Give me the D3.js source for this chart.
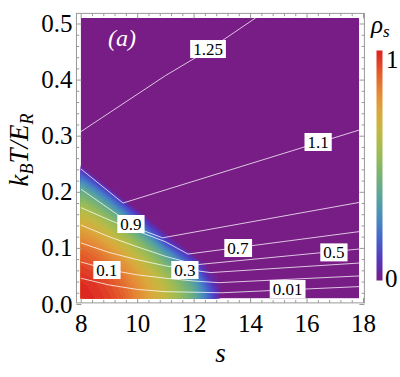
<!DOCTYPE html>
<html>
<head>
<meta charset="utf-8">
<script src="https://cdn.jsdelivr.net/npm/d3@7"></script>
<style>
body { margin: 0; background: #fff; }
svg { display: block; }
</style>
</head>
<body>
<script>
// superfluid density rho_s on a (s, kT/E_R) grid
const sAll = [8, 8.5, 9, 9.5, 10, 10.5, 11, 11.5, 12, 12.5, 13, 13.5, 14, 14.5, 15, 15.5, 16, 16.5, 17, 17.5, 18];
const tAll = [0.01, 0.03, 0.05, 0.07, 0.09, 0.11, 0.13, 0.15, 0.17, 0.19, 0.21, 0.23, 0.25,
              0.27, 0.29, 0.31, 0.33, 0.35, 0.37, 0.39, 0.41, 0.43, 0.45, 0.47, 0.49, 0.51];
// rows: T = 0.01 ... 0.25, cols: s = 8 ... 13 (everything else is 0)
const rhoRows = [
  [1.00, 0.98, 0.95, 0.90, 0.82, 0.74, 0.65, 0.54, 0.41, 0.21, 0],
  [0.99, 0.97, 0.93, 0.88, 0.81, 0.72, 0.63, 0.51, 0.38, 0.17, 0],
  [0.97, 0.95, 0.91, 0.85, 0.77, 0.68, 0.57, 0.44, 0.29, 0.06, 0],
  [0.94, 0.91, 0.86, 0.80, 0.71, 0.60, 0.47, 0.33, 0.15, 0, 0],
  [0.90, 0.87, 0.81, 0.73, 0.62, 0.50, 0.34, 0.15, 0, 0, 0],
  [0.84, 0.80, 0.73, 0.64, 0.52, 0.36, 0.13, 0, 0, 0, 0],
  [0.77, 0.72, 0.64, 0.53, 0.38, 0.15, 0, 0, 0, 0, 0],
  [0.70, 0.63, 0.53, 0.39, 0.18, 0, 0, 0, 0, 0, 0],
  [0.61, 0.52, 0.40, 0.20, 0, 0, 0, 0, 0, 0, 0],
  [0.49, 0.39, 0.21, 0, 0, 0, 0, 0, 0, 0, 0],
  [0.37, 0.20, 0, 0, 0, 0, 0, 0, 0, 0, 0],
  [0.18, 0, 0, 0, 0, 0, 0, 0, 0, 0, 0],
  [0, 0, 0, 0, 0, 0, 0, 0, 0, 0, 0]
];
const sMaxShown = 17.86;

// overlaid contour lines (level, points [s, T])
const contourLines = [
  { level: "1.25", pts: [[8, 0.307], [11, 0.407], [12.5, 0.452], [14.2, 0.51]] },
  { level: "1.1",  pts: [[8, 0.241], [9.5, 0.18], [17.86, 0.31]] },
  { level: "0.9",  pts: [[8, 0.205], [9, 0.17], [10, 0.135], [10.9, 0.118], [17.86, 0.181]] },
  { level: "0.7",  pts: [[8, 0.172], [9, 0.15], [10, 0.13], [11, 0.111], [11.8, 0.089], [17.86, 0.129]] },
  { level: "0.5",  pts: [[8, 0.141], [9, 0.12], [10, 0.102], [11, 0.085], [12.1, 0.07], [17.86, 0.098]] },
  { level: "0.3",  pts: [[8, 0.109], [9, 0.092], [10, 0.079], [11, 0.068], [12, 0.06], [12.6, 0.056], [17.86, 0.073]] },
  { level: "0.1",  pts: [[8, 0.075], [9, 0.061], [10, 0.052], [11, 0.046], [12, 0.041], [12.9, 0.038], [17.86, 0.05]] },
  { level: "0.01", pts: [[8, 0.046], [9, 0.034], [10, 0.026], [11, 0.022], [13, 0.02], [17.86, 0.031]] }
];
const contourLabels = [
  { text: "1.25", s: 12.51, t: 0.4545 },
  { text: "1.1",  s: 16.41, t: 0.2888 },
  { text: "0.9",  s: 9.78,  t: 0.1426 },
  { text: "0.7",  s: 13.57, t: 0.0998 },
  { text: "0.5",  s: 16.97, t: 0.092 },
  { text: "0.3",  s: 11.69, t: 0.0606 },
  { text: "0.1",  s: 8.93,  t: 0.0606 },
  { text: "0.01", s: 15.33, t: 0.0267 }
];

const xTicks = [8, 10, 12, 14, 16, 18];
const yTicks = [0, 0.1, 0.2, 0.3, 0.4, 0.5];
const rainbow = ["#781c86", "#5436c0", "#4664cc", "#488dbd", "#5aa49c", "#77b375",
                 "#9abb56", "#beba43", "#daaa3d", "#e58936", "#e3582b", "#db2122"];

const W = 400, H = 377;
const serif = '"Liberation Serif", "Times New Roman", Times';
const x = d3.scaleLinear().domain([8, 18]).range([80.7, 363]);
const y = d3.scaleLinear().domain([0, 0.5]).range([304, 23.5]);
const color = d3.scaleLinear()
    .domain(rainbow.map((c, i) => i / (rainbow.length - 1)))
    .range(rainbow);

const frame = { x0: x(7.85), x1: x(18.05), y0: y(0.518), y1: y(0.002) };
const fill = { x0: x(sAll[0]), x1: x(sMaxShown), y0: y(tAll[tAll.length - 1]), y1: y(tAll[0]) };

const svg = d3.select('body').append('svg').attr('width', W).attr('height', H);

svg.append('clipPath').attr('id', 'fillclip')
  .append('rect')
    .attr('x', fill.x0).attr('y', fill.y0)
    .attr('width', fill.x1 - fill.x0).attr('height', fill.y1 - fill.y0);

const plot = svg.append('g').attr('clip-path', 'url(#fillclip)');

plot.append('rect')
    .attr('x', fill.x0).attr('y', fill.y0)
    .attr('width', fill.x1 - fill.x0).attr('height', fill.y1 - fill.y0)
    .attr('fill', color(0));

// density through d3.contours
const nx = sAll.length, ny = tAll.length;
const values = new Array(nx * ny);
for (let j = 0; j < ny; j++) {
  for (let i = 0; i < nx; i++) {
    const row = rhoRows[j];
    values[j * nx + i] = (row && row[i] !== undefined) ? row[i] : 0;
  }
}
const step = 0.02;
const thresholds = d3.range(step, 1.0001, step);
const bands = d3.contours().size([nx, ny]).thresholds(thresholds)(values);
const gx = d3.scaleLinear().domain([0.5, nx - 0.5]).range([x(sAll[0]), x(sAll[nx - 1])]);
const gy = d3.scaleLinear().domain([0.5, ny - 0.5]).range([y(tAll[0]), y(tAll[ny - 1])]);
const gridPath = d3.geoPath(d3.geoTransform({
  point(px, py) { this.stream.point(gx(px), gy(py)); }
}));
plot.selectAll('path.band').data(bands).join('path')
    .attr('class', 'band')
    .attr('d', gridPath)
    .attr('fill', d => color(Math.min(1, d.value + step / 2)));

// contour lines
const line = d3.line().x(d => x(d[0])).y(d => y(d[1]));
plot.selectAll('path.cline').data(contourLines).join('path')
    .attr('class', 'cline')
    .attr('d', d => line(d.pts))
    .attr('fill', 'none')
    .attr('stroke', '#fff')
    .attr('stroke-opacity', 0.75)
    .attr('stroke-width', 1);

// contour labels
const lab = svg.append('g').selectAll('g').data(contourLabels).join('g')
    .attr('transform', d => `translate(${x(d.s)},${y(d.t)})`);
lab.append('text')
    .attr('text-anchor', 'middle')
    .attr('dy', '0.34em')
    .attr('font-size', 17)
    .style('font-family', serif)
    .attr('fill', '#000')
    .text(d => d.text);
lab.each(function () {
  const g = d3.select(this);
  const bb = g.select('text').node().getBBox();
  g.insert('rect', 'text')
    .attr('x', bb.x - 3).attr('y', -9)
    .attr('width', bb.width + 6).attr('height', 18)
    .attr('fill', '#fff');
});

// panel tag
svg.append('text')
    .attr('x', 122).attr('y', 46)
    .attr('text-anchor', 'middle')
    .attr('font-size', 24)
    .attr('font-style', 'italic')
    .attr('fill', '#fff')
    .text('(a)');

// frame and ticks
const tickColor = '#999';
svg.append('rect')
    .attr('x', frame.x0).attr('y', frame.y0)
    .attr('width', frame.x1 - frame.x0).attr('height', frame.y1 - frame.y0)
    .attr('fill', 'none').attr('stroke', tickColor).attr('stroke-width', 1);

const xMinor = d3.range(8, 18.001, 0.4).filter(v => Math.abs(v / 2 - Math.round(v / 2)) > 1e-6);
const yMinor = d3.range(0, 0.5001, 0.02).filter(v => Math.abs(v * 10 - Math.round(v * 10)) > 1e-6);

function styleAxis(g) {
  g.select('.domain').remove();
  g.selectAll('line').attr('stroke', tickColor);
  g.selectAll('text').attr('font-size', 25).attr('fill', '#000');
}

svg.append('g').attr('transform', `translate(0,${frame.y1})`)
    .call(d3.axisBottom(x).tickValues(xTicks).tickSize(-5).tickPadding(11).tickFormat(d3.format('d')))
    .call(styleAxis);
svg.append('g').attr('transform', `translate(0,${frame.y1})`)
    .call(d3.axisBottom(x).tickValues(xMinor).tickSize(-2.8).tickFormat(''))
    .call(styleAxis);
svg.append('g').attr('transform', `translate(0,${frame.y0})`)
    .call(d3.axisTop(x).tickValues(xTicks).tickSize(-5).tickFormat(''))
    .call(styleAxis);
svg.append('g').attr('transform', `translate(0,${frame.y0})`)
    .call(d3.axisTop(x).tickValues(xMinor).tickSize(-2.8).tickFormat(''))
    .call(styleAxis);

svg.append('g').attr('transform', `translate(${frame.x0},0)`)
    .call(d3.axisLeft(y).tickValues(yTicks).tickSize(-5).tickPadding(4).tickFormat(d3.format('.1f')))
    .call(styleAxis);
svg.append('g').attr('transform', `translate(${frame.x0},0)`)
    .call(d3.axisLeft(y).tickValues(yMinor).tickSize(-2.8).tickFormat(''))
    .call(styleAxis);
svg.append('g').attr('transform', `translate(${frame.x1},0)`)
    .call(d3.axisRight(y).tickValues(yTicks).tickSize(-5).tickFormat(''))
    .call(styleAxis);
svg.append('g').attr('transform', `translate(${frame.x1},0)`)
    .call(d3.axisRight(y).tickValues(yMinor).tickSize(-2.8).tickFormat(''))
    .call(styleAxis);

// axis titles
svg.append('text')
    .attr('x', (frame.x0 + frame.x1) / 2).attr('y', 362)
    .attr('text-anchor', 'middle')
    .attr('font-size', 27).attr('font-style', 'italic')
    .text('s');

const yl = svg.append('text')
    .attr('transform', 'translate(28,150) rotate(-90)')
    .attr('text-anchor', 'middle')
    .attr('font-size', 27).attr('font-style', 'italic');
yl.append('tspan').text('k');
yl.append('tspan').attr('font-size', 18).attr('dy', 5).text('B');
yl.append('tspan').attr('dy', -5).text('T/E');
yl.append('tspan').attr('font-size', 18).attr('dy', 5).text('R');

// colour bar
const cb = { x: 376.5, y: 50.5, w: 6, h: 230 };
const grad = svg.append('defs').append('linearGradient')
    .attr('id', 'cbgrad').attr('x1', 0).attr('y1', 1).attr('x2', 0).attr('y2', 0);
grad.selectAll('stop').data(d3.range(0, 1.0001, 0.05)).join('stop')
    .attr('offset', d => d)
    .attr('stop-color', d => color(d));
svg.append('rect')
    .attr('x', cb.x).attr('y', cb.y).attr('width', cb.w).attr('height', cb.h)
    .attr('fill', 'url(#cbgrad)');
svg.append('text').attr('x', 386).attr('y', cb.y + 17).attr('font-size', 25).text('1');
svg.append('text').attr('x', 385).attr('y', cb.y + cb.h + 6).attr('font-size', 25).text('0');
const rl = svg.append('text').attr('x', 371).attr('y', 33)
    .attr('font-size', 25).attr('font-style', 'italic');
rl.append('tspan').text('ρ');
rl.append('tspan').attr('font-size', 17).attr('dy', 4).text('s');

svg.selectAll('text').style('font-family', serif);
</script>
</body>
</html>
